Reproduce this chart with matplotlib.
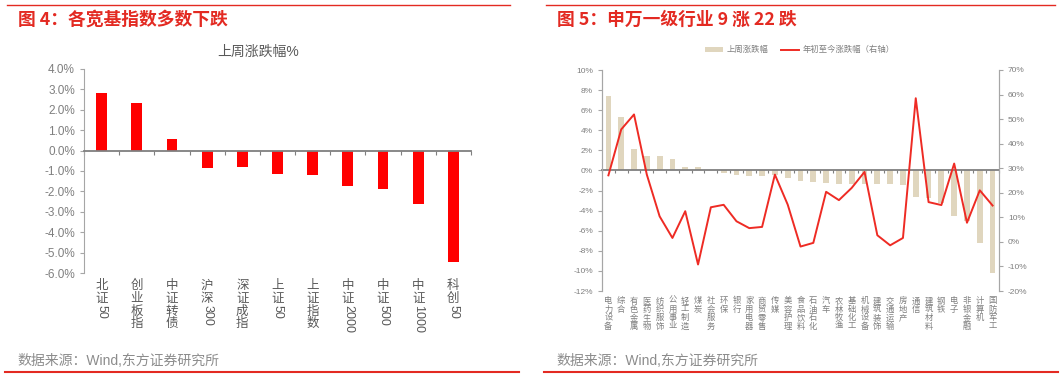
import re
import matplotlib
matplotlib.use('Agg')
import matplotlib.pyplot as plt
import matplotlib.transforms as mtrans
from matplotlib.lines import Line2D
from matplotlib.patches import Patch
import numpy as np

plt.rcParams['font.family'] = ['Liberation Sans', 'Noto Sans CJK SC']

# left chart: broad indices, last week change (%)
idx_names = ['北证50', '创业板指', '中证转债', '沪深300', '深证成指', '上证50',
             '上证指数', '中证2000', '中证500', '中证1000', '科创50']
idx_week = [2.8, 2.33, 0.57, -0.83, -0.82, -1.16, -1.19, -1.73, -1.86, -2.63, -5.48]

# right chart: SW level-1 industries
ind_names = ['电力设备', '综合', '有色金属', '医药生物', '纺织服饰', '公用事业', '轻工制造',
             '煤炭', '社会服务', '环保', '银行', '家用电器', '商贸零售', '传媒', '美容护理',
             '食品饮料', '石油石化', '汽车', '农林牧渔', '基础化工', '机械设备', '建筑装饰',
             '交通运输', '房地产', '通信', '建筑材料', '钢铁', '电子', '非银金融', '计算机',
             '国防军工']
ind_week = [7.4, 5.37, 2.12, 1.39, 1.39, 1.19, 0.3, 0.3, 0.03, -0.27, -0.5, -0.56, -0.56,
            -0.5, -0.8, -1.0, -1.13, -1.29, -1.36, -1.33, -1.39, -1.39, -1.39, -1.49,
            -2.65, -2.75, -3.2, -4.5, -5.0, -7.26, -10.25]
ind_ytd = [27.1, 45.8, 51.9, 27.4, 10.4, 1.6, 12.5, -9.2, 14.1, 15.1, 8.4, 5.6, 6.1, 27.4,
           15.2, -1.9, -0.4, 20.4, 17.0, 22.0, 28.5, 2.7, -1.4, 1.6, 58.5, 16.2, 15.0,
           31.9, 7.8, 21.0, 14.8]

RED = '#E32A22'
GRAY = '#7F7F7F'
AXC = '#A6A6A6'
W, H = 1061, 378


def fx(px):
    return px / W


def fy(py):
    return 1 - py / H


def vlabel(ax, x, text, size, pad, color):
    # excel-style vertical label: CJK upright, digit runs rotated
    tr = mtrans.blended_transform_factory(ax.transData, ax.transAxes)
    off = pad
    for r in re.findall(r'[0-9A-Za-z]+|.', text):
        if r.isascii():
            ax.annotate(r, (x, 0), xycoords=tr, xytext=(0, -off), textcoords='offset points',
                        rotation=-90, ha='center', va='top', fontsize=size, color=color,
                        annotation_clip=False)
            off += len(r) * 0.56 * size + 0.15 * size
        else:
            ax.annotate(r, (x, 0), xycoords=tr, xytext=(0, -off), textcoords='offset points',
                        ha='center', va='top', fontsize=size, color=color,
                        annotation_clip=False)
            off += size * 1.02


fig = plt.figure(figsize=(W / 100, H / 100), dpi=100)

# ---- left chart
ax1 = fig.add_axes([fx(84), fy(273), fx(471 - 84), (273 - 69) / H])
x1 = np.arange(len(idx_names))
ax1.bar(x1, idx_week, width=0.31, color='#FF0000')
ax1.set_xlim(-0.5, len(idx_names) - 0.5)
ax1.set_ylim(-6, 4)
ax1.set_yticks(np.arange(-6, 4.1, 1))
ax1.set_yticklabels([f'{v:.1f}%' for v in np.arange(-6, 4.1, 1)])
ax1.set_xticks(np.arange(-0.5, len(idx_names), 1))
ax1.tick_params(axis='x', length=3, color=GRAY, labelbottom=False)
ax1.tick_params(axis='y', length=3, color=AXC, labelsize=8.5, labelcolor=GRAY)
for s in ['top', 'right']:
    ax1.spines[s].set_visible(False)
ax1.spines['left'].set_color(AXC)
ax1.spines['bottom'].set_position(('data', 0))
ax1.spines['bottom'].set_color(GRAY)
ax1.spines['bottom'].set_linewidth(1.3)
for i, n in enumerate(idx_names):
    vlabel(ax1, i, n, 9, 5, '#595959')
fig.text(fx(258), fy(52), '上周涨跌幅%', fontsize=10, color='#595959', ha='center', va='center')

# ---- right chart
ax2 = fig.add_axes([fx(602), fy(291), fx(397), 221 / H])
ax3 = ax2.twinx()
x2 = np.arange(len(ind_names))
ax2.bar(x2, ind_week, width=0.45, color='#E0D6BE')
ax3.plot(x2, ind_ytd, color='#EE2B24', lw=1.4)
ax2.set_xlim(-0.5, len(ind_names) - 0.5)
ax2.set_ylim(-12, 10)
ax2.set_yticks(np.arange(-12, 11, 2))
ax2.set_yticklabels([f'{v:.0f}%' for v in np.arange(-12, 11, 2)])
ax3.set_ylim(-20, 70)
ax3.set_yticks(np.arange(-20, 71, 10))
ax3.set_yticklabels([f'{v:.0f}%' for v in np.arange(-20, 71, 10)])
ax2.set_xticks(np.arange(-0.5, len(ind_names), 1))
ax2.tick_params(axis='x', length=2, color=GRAY, labelbottom=False)
ax2.tick_params(axis='y', length=3, color=AXC, labelsize=6, labelcolor=GRAY)
ax3.tick_params(axis='y', length=3, color=AXC, labelsize=6, labelcolor=GRAY)
for a in (ax2, ax3):
    a.spines['top'].set_visible(False)
    a.spines['left'].set_color(AXC)
    a.spines['right'].set_color(AXC)
    a.spines['bottom'].set_visible(False)
ax2.spines['bottom'].set_visible(True)
ax2.spines['bottom'].set_position(('data', 0))
ax2.spines['bottom'].set_color(GRAY)
ax2.spines['bottom'].set_linewidth(1.3)
for i, n in enumerate(ind_names):
    vlabel(ax2, i, n, 6, 4.5, GRAY)

handles = [Patch(facecolor='#E0D6BE', edgecolor='none'),
           Line2D([], [], color='#EE2B24', lw=1.4)]
fig.legend(handles, ['上周涨跌幅', '年初至今涨跌幅（右轴）'], loc='center',
           bbox_to_anchor=(fx(800), fy(50)), ncol=2, frameon=False, fontsize=6,
           labelcolor=GRAY, handlelength=2.2, handleheight=0.5, columnspacing=1.5,
           handletextpad=0.4)

# ---- headers & footers
for x0, x1_, title in [(7, 510, '图 4：各宽基指数多数下跌'), (546, 1055, '图 5：申万一级行业 9 涨 22 跌')]:
    fig.add_artist(Line2D([fx(x0), fx(x1_)], [fy(5), fy(5)], color=RED, lw=1))
    fig.text(fx(x0 + 11), fy(20), title, fontsize=12.8, fontweight='bold', color=RED,
             va='center', ha='left', family=['Noto Sans CJK SC'])
for x0, x1_ in [(5, 519), (544, 1058)]:
    fig.add_artist(Line2D([fx(x0), fx(x1_)], [fy(372), fy(372)], color=RED, lw=1.5))
    fig.text(fx(x0 + 12), fy(361), '数据来源：Wind,东方证券研究所', fontsize=10,
             color='#8C8C8C', va='center', ha='left')

fig.savefig('out.png', dpi=100)
